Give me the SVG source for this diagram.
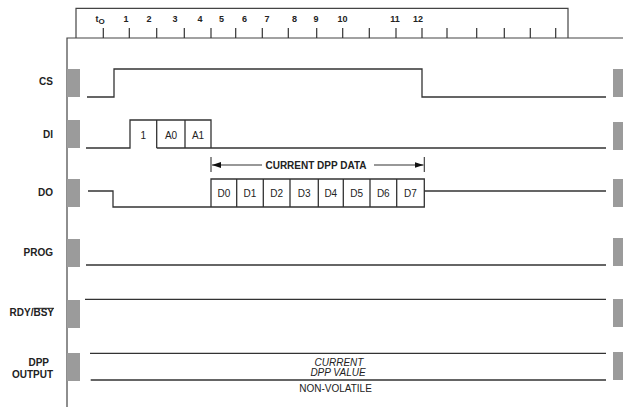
<svg xmlns="http://www.w3.org/2000/svg" width="623" height="407" viewBox="0 0 623 407">
<style>
.ln{fill:none;stroke:#333;stroke-width:1.3}
.fr{fill:none;stroke:#444;stroke-width:1.2}
.bar{fill:#9b9b9b}
.lbl{font-family:"Liberation Sans",Arial,sans-serif;font-size:10px;font-weight:bold;fill:#222}
.num{font-family:"Liberation Sans",Arial,sans-serif;font-size:9px;font-weight:bold;fill:#222;text-anchor:middle}
.t{font-family:"Liberation Sans",Arial,sans-serif;font-size:10px;fill:#222;text-anchor:middle}
.it{font-style:italic}
</style>
<defs>
<marker id="ah" markerWidth="9" markerHeight="6" refX="9" refY="3" orient="auto" markerUnits="userSpaceOnUse">
<path d="M0,0 L9,3 L0,6 Z" fill="#111"/>
</marker>
</defs>
<rect width="623" height="407" fill="#fff"/>
<g id="ruler">
<path class="fr" d="M76,38 V8.3 H568 V38"/>
<path class="fr" d="M67,407 V38 H623"/>
<g stroke="#333" stroke-width="1.2">
<line x1="103.3" y1="28" x2="103.3" y2="38"/><line x1="129.3" y1="28" x2="129.3" y2="38"/>
<line x1="156.7" y1="28" x2="156.7" y2="38"/><line x1="184.3" y1="28" x2="184.3" y2="38"/>
<line x1="211" y1="28" x2="211" y2="38"/><line x1="235.7" y1="28" x2="235.7" y2="38"/>
<line x1="262.3" y1="28" x2="262.3" y2="38"/><line x1="288.3" y1="28" x2="288.3" y2="38"/>
<line x1="316.7" y1="28" x2="316.7" y2="38"/><line x1="342.7" y1="28" x2="342.7" y2="38"/>
<line x1="369.3" y1="28" x2="369.3" y2="38"/><line x1="396" y1="28" x2="396" y2="38"/>
<line x1="422" y1="28" x2="422" y2="38"/><line x1="447" y1="28" x2="447" y2="38"/>
<line x1="476.7" y1="28" x2="476.7" y2="38"/><line x1="504.3" y1="28" x2="504.3" y2="38"/>
<line x1="530.3" y1="28" x2="530.3" y2="38"/><line x1="555.7" y1="28" x2="555.7" y2="38"/>
</g>
<text class="num" x="100" y="22">t<tspan font-size="8" dy="2">O</tspan></text>
<text class="num" x="126" y="22">1</text>
<text class="num" x="149" y="22">2</text>
<text class="num" x="175" y="22">3</text>
<text class="num" x="200" y="22">4</text>
<text class="num" x="221.5" y="22">5</text>
<text class="num" x="244.5" y="22">6</text>
<text class="num" x="267" y="22">7</text>
<text class="num" x="294.5" y="22">8</text>
<text class="num" x="316" y="22">9</text>
<text class="num" x="342.5" y="22">10</text>
<text class="num" x="395" y="22">11</text>
<text class="num" x="418" y="22">12</text>
</g>
<g id="bars">
<rect class="bar" x="67" y="69" width="13" height="28"/>
<rect class="bar" x="67" y="120" width="13" height="28"/>
<rect class="bar" x="67" y="179" width="13" height="28"/>
<rect class="bar" x="67" y="239" width="13" height="28"/>
<rect class="bar" x="67" y="300" width="13" height="28"/>
<rect class="bar" x="67" y="353" width="13" height="28"/>
<rect class="bar" x="613" y="69" width="10" height="28"/>
<rect class="bar" x="613" y="122" width="10" height="28"/>
<rect class="bar" x="613" y="179" width="10" height="28"/>
<rect class="bar" x="613" y="238" width="10" height="28"/>
<rect class="bar" x="613" y="299" width="10" height="28"/>
<rect class="bar" x="613" y="352" width="10" height="28"/>
</g>
<g id="cs">
<text class="lbl" x="53" y="85" text-anchor="end">CS</text>
<path class="ln" d="M87,97 H114 V69 H422 V97 H606"/>
</g>
<g id="di">
<text class="lbl" x="53" y="138" text-anchor="end">DI</text>
<path class="ln" d="M86,148 H130 V120 H211 V148 H606 M156.7,120 V148 M185,120 V148 M156.7,148 H211"/>
<text class="t" x="143.3" y="139">1</text>
<text class="t" x="171" y="139">A0</text>
<text class="t" x="198" y="139">A1</text>
</g>
<g id="do">
<text class="lbl" x="53" y="196" text-anchor="end">DO</text>
<path class="ln" d="M88,191 H113 V207 H211 V179 H424.3 V207 H211 M424.3,191 H606 M236.7,179 V207 M263.3,179 V207 M290,179 V207 M318.3,179 V207 M343.3,179 V207 M370,179 V207 M396.7,179 V207"/>
<text class="t" x="224" y="197">D0</text>
<text class="t" x="250" y="197">D1</text>
<text class="t" x="276.7" y="197">D2</text>
<text class="t" x="304.2" y="197">D3</text>
<text class="t" x="330.8" y="197">D4</text>
<text class="t" x="356.7" y="197">D5</text>
<text class="t" x="383.3" y="197">D6</text>
<text class="t" x="410.5" y="197">D7</text>
</g>
<g id="dppdata">
<line x1="211" y1="157" x2="211" y2="172" stroke="#333" stroke-width="1.1"/>
<line x1="424.3" y1="157" x2="424.3" y2="172" stroke="#333" stroke-width="1.1"/>
<line x1="262" y1="165" x2="212" y2="165" stroke="#333" stroke-width="1.1" marker-end="url(#ah)"/>
<line x1="374" y1="165" x2="423.5" y2="165" stroke="#333" stroke-width="1.1" marker-end="url(#ah)"/>
<text class="lbl" x="316" y="168.5" text-anchor="middle">CURRENT DPP DATA</text>
</g>
<g id="prog">
<text class="lbl" x="53" y="256" text-anchor="end">PROG</text>
<path class="ln" d="M86,265 H606"/>
</g>
<g id="rdy">
<text class="lbl" x="54" y="316" text-anchor="end">RDY/BSY</text>
<line x1="33.5" y1="308.3" x2="54" y2="308.3" stroke="#222" stroke-width="1"/>
<path class="ln" d="M85,299.3 H606"/>
</g>
<g id="dpp">
<text class="lbl" x="49" y="366" text-anchor="end">DPP</text>
<text class="lbl" x="53" y="378" text-anchor="end">OUTPUT</text>
<path class="ln" d="M90,353.3 H606 M90.7,380 H606"/>
<text class="t it" x="339" y="366">CURRENT</text>
<text class="t it" x="338" y="376">DPP VALUE</text>
<text class="t" x="335.5" y="392">NON-VOLATILE</text>
</g>
</svg>
